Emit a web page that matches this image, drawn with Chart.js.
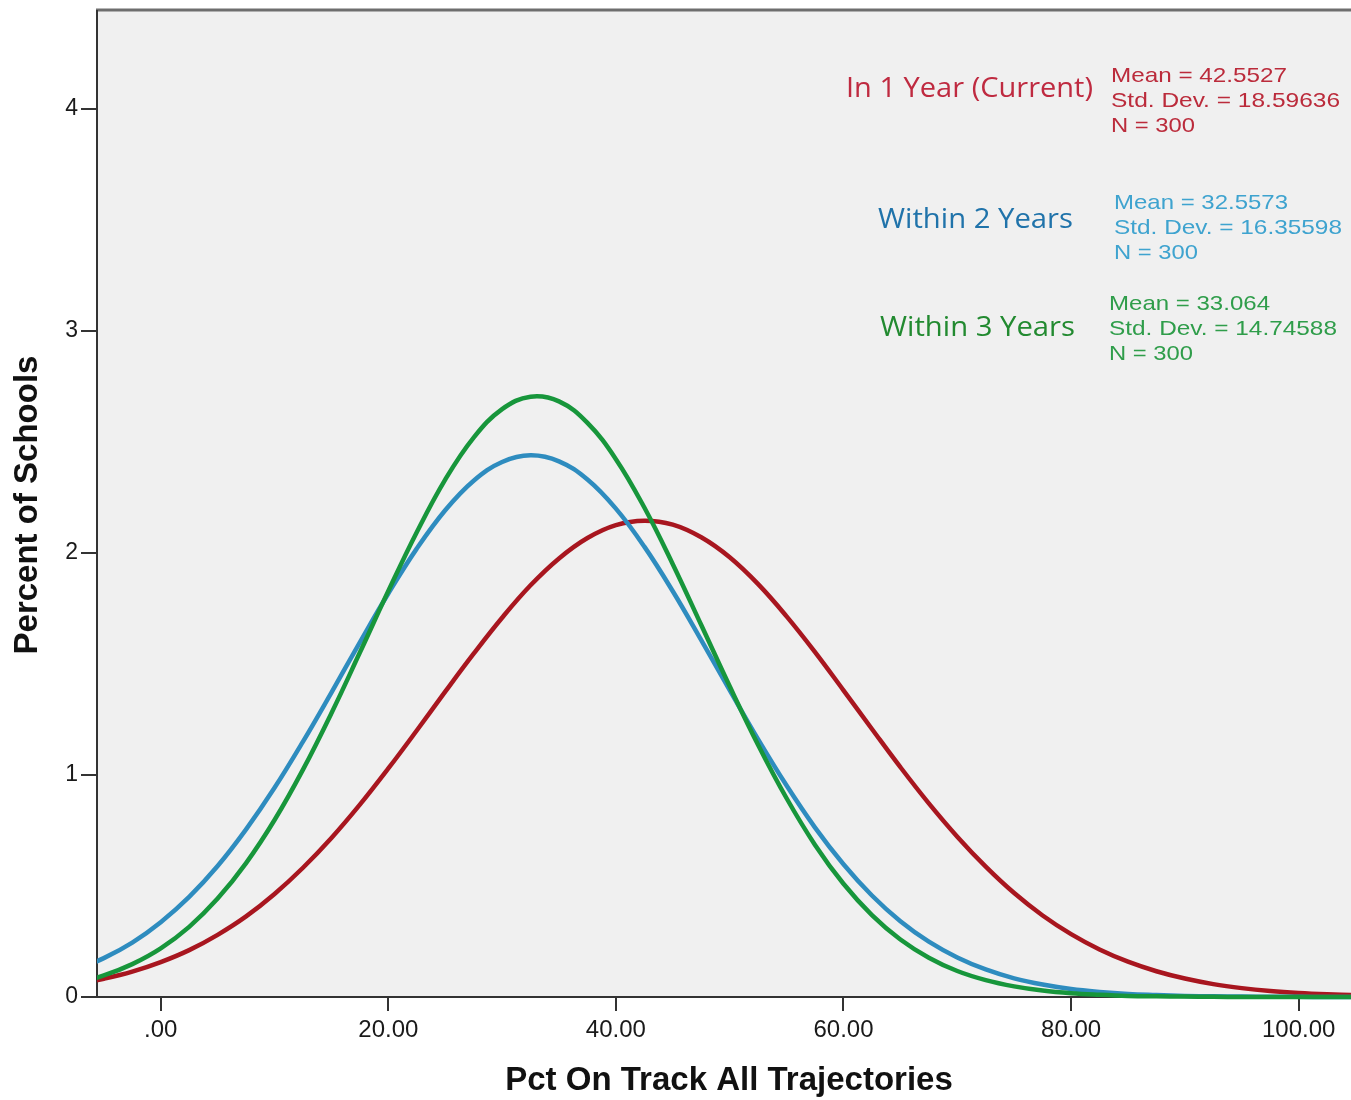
<!DOCTYPE html>
<html>
<head>
<meta charset="utf-8">
<script src="https://cdn.jsdelivr.net/npm/chart.js@4/dist/chart.umd.min.js"></script>
<style>
  html, body { margin: 0; padding: 0; background: #ffffff; }
  #chart { display: block; }
</style>
</head>
<body>
<canvas id="chart" width="1351" height="1100"></canvas>
<script>
const xValues = [-7.5, -5, -2.5, 0, 2.5, 5, 7.5, 10, 12.5, 15, 17.5, 20, 22.5, 25, 27.5, 30,
  32.5, 35, 37.5, 40, 42.5, 45, 47.5, 50, 52.5, 55, 57.5, 60, 62.5, 65, 67.5, 70,
  72.5, 75, 77.5, 80, 82.5, 85, 87.5, 90, 92.5, 95, 97.5, 100, 102.5, 105];

// percent of schools, one value per x above
const oneYear = [0.057, 0.082, 0.114, 0.157, 0.211, 0.280, 0.363, 0.464, 0.582, 0.716, 0.866, 1.029,
  1.200, 1.375, 1.546, 1.708, 1.854, 1.975, 2.067, 2.125, 2.145, 2.127, 2.070, 1.980,
  1.859, 1.714, 1.553, 1.381, 1.207, 1.035, 0.872, 0.722, 0.587, 0.468, 0.367, 0.283,
  0.214, 0.159, 0.116, 0.083, 0.058, 0.040, 0.027, 0.018, 0.012, 0.008];
const twoYears = [0.122, 0.175, 0.245, 0.337, 0.451, 0.590, 0.755, 0.942, 1.150, 1.371, 1.597, 1.817,
  2.019, 2.192, 2.325, 2.409, 2.439, 2.412, 2.330, 2.199, 2.028, 1.827, 1.607, 1.382,
  1.160, 0.952, 0.763, 0.598, 0.457, 0.341, 0.249, 0.178, 0.124, 0.084, 0.056, 0.036,
  0.023, 0.014, 0.009, 0.005, 0.003, 0.002, 0.001, 0.001, 0.000, 0.000];
const threeYears = [0.062, 0.097, 0.148, 0.219, 0.316, 0.443, 0.603, 0.797, 1.024, 1.278, 1.551, 1.828,
  2.093, 2.330, 2.519, 2.647, 2.703, 2.682, 2.585, 2.422, 2.204, 1.949, 1.675, 1.399,
  1.135, 0.895, 0.685, 0.510, 0.369, 0.259, 0.177, 0.117, 0.076, 0.048, 0.029, 0.017,
  0.010, 0.005, 0.003, 0.002, 0.001, 0.000, 0.000, 0.000, 0.000, 0.000];

const xTickValues = [0, 20, 40, 60, 80, 100];
const yTickValues = [0, 1, 2, 3, 4];
const seriesNames = ['In 1 Year (Current)', 'Within 2 Years', 'Within 3 Years'];
const seriesStats = [
  ['Mean = 42.5527', 'Std. Dev. = 18.59636', 'N = 300'],
  ['Mean = 32.5573', 'Std. Dev. = 16.35598', 'N = 300'],
  ['Mean = 33.064', 'Std. Dev. = 14.74588', 'N = 300']
];

const lineColors = ['#a8161f', '#2e8cbf', '#17963b'];
const labelColors = ['#bf2a40', '#2073aa', '#228a30'];
const statColors = ['#bb2b3b', '#3ea3cf', '#2f9d4a'];

const sansFont = '"Liberation Sans", Arial, sans-serif';
const labelFont = '"Open Sans", "Noto Sans", sans-serif';

function toPoints(values) {
  return xValues.map((x, i) => ({ x, y: values[i] }));
}

function curve(label, values, idx, order) {
  return {
    label,
    data: toPoints(values),
    borderColor: lineColors[idx],
    borderWidth: 4.5,
    pointRadius: 0,
    fill: false,
    tension: 0.4,
    clip: { left: 0, right: 0, top: 0, bottom: 4 },
    order
  };
}

// spss style frame: grey plot area, grey top rule
const frame = {
  id: 'frame',
  beforeDraw(chart) {
    const { ctx, chartArea: a } = chart;
    ctx.save();
    ctx.fillStyle = '#f0f0f0';
    ctx.fillRect(a.left, a.top, a.right - a.left, a.bottom - a.top);
    ctx.strokeStyle = '#6e6e6e';
    ctx.lineWidth = 3;
    ctx.beginPath();
    ctx.moveTo(a.left - 1, a.top - 1);
    ctx.lineTo(a.right, a.top - 1);
    ctx.stroke();
    ctx.restore();
  }
};

// draws text squeezed/stretched to a target width
function fitText(ctx, text, x, y, font, width, align) {
  ctx.font = font;
  const sx = width / ctx.measureText(text).width;
  ctx.save();
  ctx.translate(x, y);
  ctx.scale(sx, 1);
  ctx.textAlign = align;
  ctx.textBaseline = 'middle';
  ctx.fillText(text, 0, 0);
  ctx.restore();
}

const annotations = {
  id: 'annotations',
  afterDraw(chart) {
    const { ctx } = chart;
    ctx.save();
    ctx.fillStyle = '#111';
    ctx.font = `bold 33px ${sansFont}`;
    ctx.textAlign = 'center';
    ctx.textBaseline = 'middle';
    ctx.fillText('Pct On Track All Trajectories', 729, 1081);
    ctx.save();
    ctx.translate(28, 505);
    ctx.rotate(-Math.PI / 2);
    ctx.fillText('Percent of Schools', 0, 0);
    ctx.restore();

    const labelPos = [[1093, 89, 247], [1073, 220, 195], [1075, 328, 195]];
    const statPos = [[1111, 76], [1114, 203], [1109, 304]];
    const statWidths = [[176, 229, 84], [174, 228, 84], [161, 228, 84]];
    seriesNames.forEach((name, i) => {
      ctx.fillStyle = labelColors[i];
      const [lx, ly, lw] = labelPos[i];
      fitText(ctx, name, lx, ly, `500 28px ${labelFont}`, lw, 'right');
      ctx.fillStyle = statColors[i];
      const [sx, sy] = statPos[i];
      seriesStats[i].forEach((line, j) => {
        fitText(ctx, line, sx, sy + j * 25, `21px ${sansFont}`, statWidths[i][j], 'left');
      });
    });
    ctx.restore();
  }
};

new Chart(document.getElementById('chart'), {
  type: 'line',
  data: {
    datasets: [
      curve(seriesNames[0], oneYear, 0, 3),
      curve(seriesNames[1], twoYears, 1, 2),
      curve(seriesNames[2], threeYears, 2, 1)
    ]
  },
  options: {
    responsive: false,
    animation: false,
    devicePixelRatio: 1,
    layout: { padding: { top: 11, right: 0, bottom: 0, left: 0 } },
    plugins: { legend: { display: false }, tooltip: { enabled: false } },
    scales: {
      x: {
        type: 'linear',
        min: -5.6,
        max: 104.6,
        afterBuildTicks: (s) => { s.ticks = xTickValues.map((value) => ({ value })); },
        afterFit: (s) => { s.height = 103; s.paddingLeft = 0; s.paddingRight = 0; },
        ticks: {
          callback: (v) => (v === 0 ? '.00' : v.toFixed(2)),
          font: { family: sansFont, size: 24 },
          color: '#1a1a1a',
          padding: 5,
          maxRotation: 0,
          autoSkip: false
        },
        grid: { drawOnChartArea: false, drawTicks: true, tickLength: 14, color: '#333', lineWidth: 2 },
        border: { display: true, color: '#333', width: 2 }
      },
      y: {
        min: 0,
        max: 4.44,
        afterBuildTicks: (s) => { s.ticks = yTickValues.map((value) => ({ value })); },
        afterFit: (s) => { s.width = 97; s.paddingTop = 0; s.paddingBottom = 0; },
        ticks: {
          font: { family: sansFont, size: 23 },
          color: '#1a1a1a',
          padding: 3
        },
        grid: { drawOnChartArea: false, drawTicks: true, tickLength: 16, color: '#333', lineWidth: 2 },
        border: { display: true, color: '#333', width: 2 }
      }
    }
  },
  plugins: [frame, annotations]
});
</script>
</body>
</html>
